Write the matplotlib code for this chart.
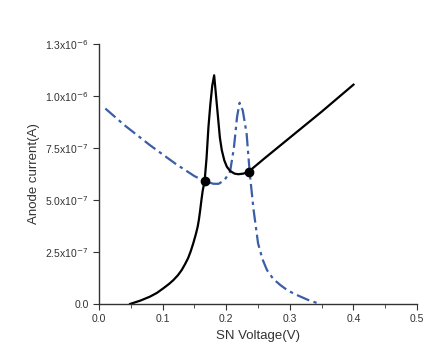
import matplotlib.pyplot as plt
from matplotlib.ticker import FixedLocator, FixedFormatter, MultipleLocator

plt.rcParams['font.family'] = ['Liberation Sans', 'DejaVu Sans']

# black solid curve (A)
xa = [0.049, 0.065, 0.080, 0.091, 0.101, 0.110, 0.117, 0.124, 0.130, 0.135, 0.140, 0.144,
      0.148, 0.152, 0.155, 0.157, 0.159, 0.161, 0.163, 0.166, 0.169, 0.172, 0.175, 0.178,
      0.181, 0.184, 0.187, 0.190, 0.193, 0.197, 0.201, 0.206, 0.213, 0.219, 0.227, 0.235,
      0.260, 0.300, 0.350, 0.400]
ya = [0.0, 0.016e-6, 0.035e-6, 0.053e-6, 0.075e-6, 0.096e-6, 0.115e-6, 0.138e-6, 0.163e-6,
      0.190e-6, 0.220e-6, 0.252e-6, 0.290e-6, 0.333e-6, 0.370e-6, 0.405e-6, 0.450e-6,
      0.500e-6, 0.545e-6, 0.591e-6, 0.700e-6, 0.850e-6, 0.960e-6, 1.05e-6, 1.10e-6, 1.00e-6,
      0.90e-6, 0.80e-6, 0.740e-6, 0.690e-6, 0.660e-6, 0.640e-6, 0.627e-6, 0.624e-6,
      0.627e-6, 0.636e-6, 0.70e-6, 0.80e-6, 0.925e-6, 1.055e-6]

# blue dash-dot curve (B)
xb = [0.010, 0.040, 0.080, 0.120, 0.150, 0.166, 0.180, 0.188, 0.197, 0.206, 0.212, 0.217,
      0.221, 0.226, 0.232, 0.237, 0.243, 0.250, 0.257, 0.264, 0.274, 0.285, 0.297, 0.311,
      0.328, 0.347]
yb = [0.94e-6, 0.86e-6, 0.764e-6, 0.675e-6, 0.615e-6, 0.591e-6, 0.578e-6, 0.578e-6, 0.595e-6,
      0.636e-6, 0.75e-6, 0.90e-6, 0.968e-6, 0.93e-6, 0.82e-6, 0.628e-6, 0.452e-6, 0.292e-6,
      0.215e-6, 0.163e-6, 0.120e-6, 0.091e-6, 0.064e-6, 0.043e-6, 0.020e-6, 0.0]

# intersection points
xp = [0.166, 0.235]
yp = [0.591e-6, 0.636e-6]

yticks = [0, 2.5e-7, 5.0e-7, 7.5e-7, 1.0e-6, 1.25e-6]
ylabels = ['0.0', '2.5x10$^{-7}$', '5.0x10$^{-7}$', '7.5x10$^{-7}$', '1.0x10$^{-6}$', '1.3x10$^{-6}$']

fig = plt.figure(figsize=(4.48, 3.53), dpi=100)
ax = fig.add_axes([0.221, 0.139, 0.710, 0.736])

ax.plot(xb, yb, color='#3b5ea6', lw=1.6, linestyle=(0, (6, 2, 1.5, 2)))
ax.plot(xa, ya, color='black', lw=1.6)
ax.plot(xp, yp, 'o', color='black', markersize=6)

ax.set_xlim(0, 0.5)
ax.set_ylim(0, 1.25e-6)
ax.xaxis.set_major_locator(MultipleLocator(0.1))
ax.xaxis.set_minor_locator(MultipleLocator(0.05))
ax.yaxis.set_major_locator(FixedLocator(yticks))
ax.yaxis.set_major_formatter(FixedFormatter(ylabels))
ax.tick_params(axis='both', which='both', direction='out', labelsize=7.5, colors='#333333')
ax.tick_params(axis='both', which='major', length=4)
ax.tick_params(axis='x', which='minor', length=3)

for s in ['top', 'right']:
    ax.spines[s].set_visible(False)
for s in ['left', 'bottom']:
    ax.spines[s].set_linewidth(1.0)
    ax.spines[s].set_color('#333333')

ax.set_xlabel('SN Voltage(V)', fontsize=9.5, color='#333333')
ax.set_ylabel('Anode current(A)', fontsize=9.5, color='#333333')

fig.savefig('out.png', dpi=100)
